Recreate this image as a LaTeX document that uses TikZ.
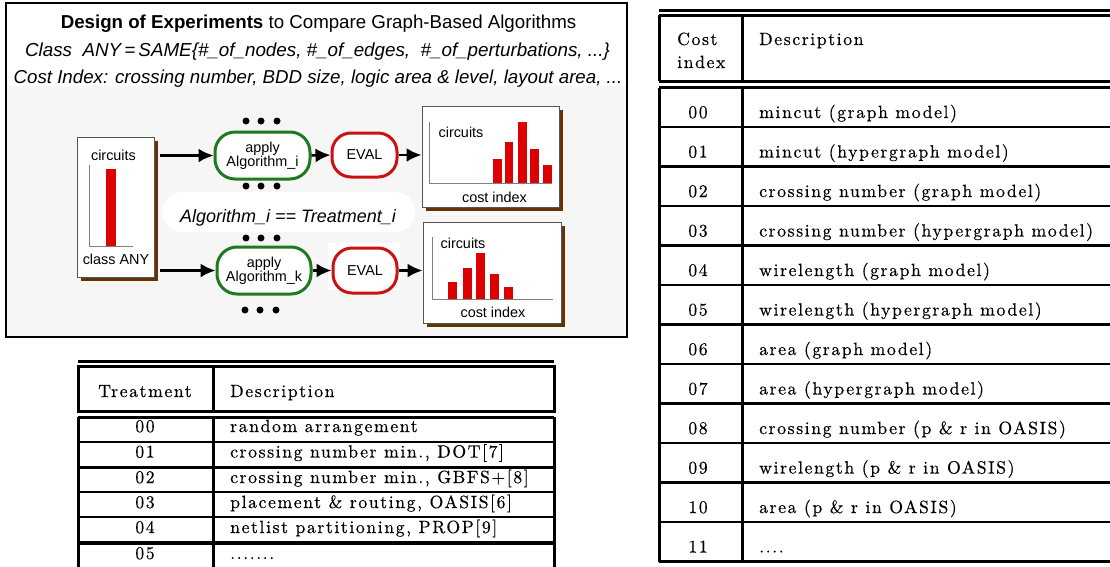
\documentclass[tikz,border=0pt]{standalone}
\usepackage{fontspec}
\usetikzlibrary{arrows.meta,shadows}
\newfontfamily\arial{Liberation Sans}
\newfontfamily\tabfam{lmroman10-regular}[Extension=.otf, LetterSpace=9, FakeBold=0.4]
\definecolor{algcol}{HTML}{1E7A1E}
\definecolor{evalcol}{HTML}{CC1111}
\definecolor{barcol}{HTML}{DD0000}
\definecolor{shcol}{HTML}{663305}
\definecolor{boxcol}{HTML}{555555}
\definecolor{axcol}{HTML}{808080}
\definecolor{bgcol}{HTML}{F6F6F6}
\newcommand\tabfnt{\tabfam\fontsize{17.7}{20}\selectfont}
\newcommand\dgfnt{\arial\fontsize{14.4}{14}\selectfont}
\begin{document}
\begin{tikzpicture}[x=1pt,y=-1pt,
  shbox/.style={draw=boxcol, line width=1pt, fill=white, inner sep=0pt,
     drop shadow={shadow xshift=4pt, shadow yshift=-4pt, fill=shcol, opacity=1}},
  algnode/.style={draw=algcol, line width=3pt, rounded corners=20pt, fill=white, align=center, font=\dgfnt, inner sep=0pt},
  evalnode/.style={draw=evalcol, line width=3pt, rounded corners=19pt, fill=white, font=\dgfnt, inner sep=0pt},
  arr/.style={line width=2.5pt, -{Latex[length=15pt,width=14pt]}},
  dotn/.style={circle, fill=black, minimum size=7pt, inner sep=0pt},
  axis/.style={draw=axcol, line width=1pt},
  lbl/.style={font=\dgfnt, inner sep=0pt, anchor=base},
  tl/.style={line width=3pt},
  rl/.style={line width=2.5pt},
  tt/.style={font=\tabfnt, inner sep=0pt, anchor=base west},
  tn/.style={font=\tabfnt, inner sep=0pt, anchor=base}
]
\useasboundingbox (0,0) rectangle (1110,566);
\fill[white] (0,0) rectangle (1110,566);
% ---------- diagram frame ----------
\fill[white] (6,3) rectangle (627,86);
\fill[bgcol] (6,86) rectangle (627,337);
\draw[line width=2.5pt] (6,3) rectangle (627,337);
\node[inner sep=0pt, anchor=base, font=\arial\fontsize{18.7}{20}\selectfont] (title) at (318.5,28) {\textbf{Design of Experiments} to Compare Graph-Based Algorithms};
\node[inner sep=0pt, anchor=base, font=\arial\itshape\fontsize{18.8}{20}\selectfont] (cls2) at (317.5,56) {Class\ \ ANY\,=\,SAME\{\#\_of\_nodes, \#\_of\_edges,\ \ \#\_of\_perturbations, ...\}};
\node[inner sep=0pt, anchor=base, font=\arial\itshape\fontsize{18.7}{20}\selectfont] (cost3) at (318,83) {Cost Index: crossing number, BDD size, logic area \& level, layout area, ...};
% pill label
\fill[white, rounded corners=20pt] (162,192) rectangle (415,232);
\fill[white] (328,243) rectangle (400,290);
\node[inner sep=0pt, anchor=base, font=\arial\itshape\fontsize{18}{20}\selectfont] (eqlbl) at (288,222) {Algorithm\_i == Treatment\_i};
% class box
\node[shbox, minimum width=77pt, minimum height=140pt] (cls) at (115.5,207) {};
\draw[axis] (89,165) -- (89,246) -- (133,246);
\fill[barcol] (106,169) rectangle (116,246);
\node[lbl] (clsc) at (113.5,160) {circuits};
\node[lbl] (clsa) at (116,264) {class ANY};
% algorithm nodes
\node[algnode, minimum width=95pt, minimum height=47pt] (algi) at (262.5,155.5) {apply\\Algorithm\_i};
\node[algnode, minimum width=94pt, minimum height=47pt] (algk) at (264,270.5) {apply\\Algorithm\_k};
% eval nodes
\node[evalnode, minimum width=65pt, minimum height=44pt] (evali) at (364.5,155) {EVAL};
\node[evalnode, minimum width=64pt, minimum height=45pt] (evalk) at (365,270.5) {EVAL};
% chart boxes
\node[shbox, minimum width=137pt, minimum height=101pt] (charti) at (490.5,156.5) {};
\node[shbox, minimum width=138pt, minimum height=101pt] (chartk) at (492,272.5) {};
% upper chart content
\draw[axis] (429,122) -- (429,183) -- (552,183);
\fill[barcol] (493,159) rectangle (501.5,183);
\fill[barcol] (504.5,142) rectangle (513,183);
\fill[barcol] (518,122) rectangle (526.5,183);
\fill[barcol] (530,149) rectangle (538.5,183);
\fill[barcol] (543,165) rectangle (551.5,183);
\node[lbl] (cci) at (461,137) {circuits};
\node[lbl] (cii) at (494.5,202) {cost index};
% lower chart content
\draw[axis] (432,237) -- (432,299) -- (553,299);
\fill[barcol] (448,282) rectangle (457,299);
\fill[barcol] (463,268) rectangle (472,299);
\fill[barcol] (476,253) rectangle (485,299);
\fill[barcol] (490,274) rectangle (499,299);
\fill[barcol] (504,287) rectangle (513,299);
\node[lbl] (cck) at (463,248) {circuits};
\node[lbl] (cik) at (493,317) {cost index};
% dots
\foreach \n/\x/\y in {a1/246/121,a2/261/121,a3/277/121,b1/246/186,b2/261/186,b3/277/186,
                      c1/246/238,c2/261/238,c3/277/238,d1/245/310,d2/260/310,d3/276/310}
  \node[dotn] (dot\n) at (\x,\y) {};
% arrows
\draw[arr, shorten <=5pt] (cls.east |- algi.west) -- (algi.west);
\draw[arr, shorten <=5pt] (cls.east |- algk.west) -- (algk.west);
\draw[arr] (algi.east) -- (evali.west);
\draw[arr] (evali.east) -- (charti.west |- evali.east);
\draw[arr] (algk.east) -- (evalk.west);
\draw[arr] (evalk.east) -- (chartk.west |- evalk.east);
% ---------- Treatment table ----------
\draw[tl] (78,361) -- (554,361);
\draw[tl] (78,366) rectangle (554,411);
\draw[tl] (213,366) -- (213,411);
\draw[tl] (78,417) -- (554,417);
\draw[tl] (78,417) -- (78,568);
\draw[tl] (213,417) -- (213,568);
\draw[tl] (554,417) -- (554,568);
\draw[rl] (78,442) -- (554,442);
\draw[tl] (78,467) -- (554,467);
\draw[rl] (78,492) -- (554,492);
\draw[rl] (78,517) -- (554,517);
\draw[line width=3.5pt] (78,543) -- (554,543);
\node[tn] (th1) at (145,397) {Treatment};
\node[tt] (th2) at (230,397) {Description};
\foreach \n/\y/\d in {00/432/random arrangement,01/457.5/{crossing number min., DOT[7]},
   02/483/{crossing number min., GBFS+[8]},03/508/{placement \& routing, OASIS[6]},
   04/533/{netlist partitioning, PROP[9]},05/559/{.......}}{
  \node[tn] (tn\n) at (145,\y) {\n};
  \node[tt] (td\n) at (230,\y) {\d};
}
% ---------- Cost index table ----------
\draw[tl] (659,10) -- (1110,10);
\draw[tl] (659,15) -- (1110,15);
\draw[tl] (659,81) -- (1110,81);
\draw[tl] (659,15) -- (659,81);
\draw[tl] (742,15) -- (742,81);
\draw[tl] (659,87.5) -- (1110,87.5);
\draw[tl] (659,561.5) -- (1110,561.5);
\draw[tl] (659,87.5) -- (659,561.5);
\draw[tl] (742,87.5) -- (742,561.5);
\foreach \y in {127,166.5,206,245.5,285,324.5,364,403.5,443,482.5,522}
  \draw[rl] (659,\y) -- (1110,\y);
\node[tt] (ch1) at (677,45) {Cost};
\node[tt] (ch1b) at (677,68) {index};
\node[tt] (ch2) at (759,45) {Description};
\foreach \n/\y/\d in {00/118/mincut (graph model),01/157.5/mincut (hypergraph model),
   02/197/crossing number (graph model),03/236.5/crossing number (hypergraph model),
   04/276/wirelength (graph model),05/315.5/wirelength (hypergraph model),
   06/355/area (graph model),07/394.5/area (hypergraph model),
   08/434/crossing number (p \& r in OASIS),09/473.5/wirelength (p \& r in OASIS),
   10/513/area (p \& r in OASIS),11/552.5/{....}}{
  \node[tn] (cn\n) at (698,\y) {\n};
  \node[tt] (cd\n) at (759,\y) {\d};
}
\end{tikzpicture}
\end{document}
